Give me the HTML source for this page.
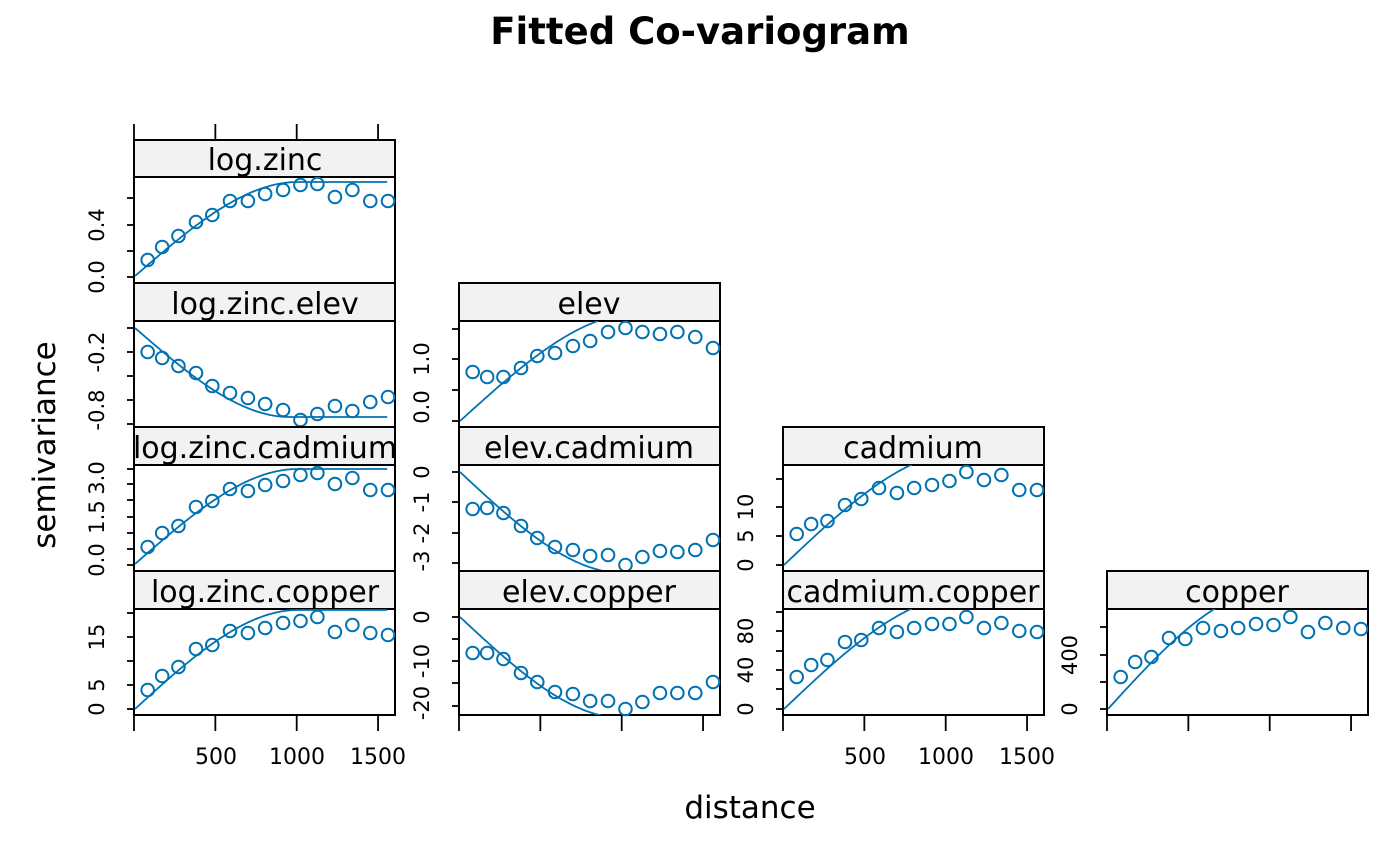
<!DOCTYPE html>
<html><head><meta charset="utf-8"><style>
html,body{margin:0;padding:0;background:#fff;}
svg{display:block;font-family:"DejaVu Sans","Liberation Sans",sans-serif;}
</style></head><body>
<svg id="s" width="1400" height="866" viewBox="0 0 1400 866" xmlns="http://www.w3.org/2000/svg">
<rect width="1400" height="866" fill="#fff"/>
<text x="700" y="44" text-anchor="middle" font-size="37" font-weight="bold">Fitted Co-variogram</text>
<text x="750" y="818" text-anchor="middle" font-size="31">distance</text>
<text transform="translate(55,445) rotate(-90)" text-anchor="middle" font-size="31">semivariance</text>
<g font-size="22" text-anchor="middle">
<text x="216" y="764">500</text><text x="297" y="764">1000</text><text x="378" y="764">1500</text>
<text x="865" y="764">500</text><text x="946" y="764">1000</text><text x="1027" y="764">1500</text>
</g>
<g id="plots"></g>
<g font-size="21" text-anchor="middle" id="ylab">
<text transform="translate(104,277) rotate(-90)">0.0</text>
<text transform="translate(104,225) rotate(-90)">0.4</text>
<text transform="translate(104,352) rotate(-90)">-0.2</text>
<text transform="translate(104,410) rotate(-90)">-0.8</text>
<text transform="translate(104,560) rotate(-90)">0.0</text>
<text transform="translate(104,517) rotate(-90)">1.5</text>
<text transform="translate(104,478) rotate(-90)">3.0</text>
<text transform="translate(104,709) rotate(-90)">0</text>
<text transform="translate(104,685) rotate(-90)">5</text>
<text transform="translate(104,637) rotate(-90)">15</text>
<text transform="translate(429,407) rotate(-90)">0.0</text>
<text transform="translate(429,359) rotate(-90)">1.0</text>
<text transform="translate(429,472) rotate(-90)">0</text>
<text transform="translate(429,502) rotate(-90)">-1</text>
<text transform="translate(429,533) rotate(-90)">-2</text>
<text transform="translate(429,561) rotate(-90)">-3</text>
<text transform="translate(429,617) rotate(-90)">0</text>
<text transform="translate(429,661) rotate(-90)">-10</text>
<text transform="translate(429,703) rotate(-90)">-20</text>
<text transform="translate(753,565) rotate(-90)">0</text>
<text transform="translate(753,536) rotate(-90)">5</text>
<text transform="translate(753,507) rotate(-90)">10</text>
<text transform="translate(753,709) rotate(-90)">0</text>
<text transform="translate(753,670) rotate(-90)">40</text>
<text transform="translate(753,631) rotate(-90)">80</text>
<text transform="translate(1077,709) rotate(-90)">0</text>
<text transform="translate(1077,655) rotate(-90)">400</text>
</g>
<defs>
<clipPath id="s1"><rect x="134" y="140" width="261" height="575"/></clipPath>
<clipPath id="s2"><rect x="459" y="140" width="261" height="575"/></clipPath>
<clipPath id="s3"><rect x="783" y="140" width="261" height="575"/></clipPath>
<clipPath id="s4"><rect x="1107" y="140" width="261" height="575"/></clipPath>
</defs>
<g id="strips" font-size="30" text-anchor="middle">
<g clip-path="url(#s1)">
<text x="265" y="170">log.zinc</text>
<text x="265" y="314">log.zinc.elev</text>
<text x="265" y="458">log.zinc.cadmium</text>
<text x="265" y="602">log.zinc.copper</text>
</g>
<g clip-path="url(#s2)">
<text x="589" y="314">elev</text>
<text x="589" y="458">elev.cadmium</text>
<text x="589" y="602">elev.copper</text>
</g>
<g clip-path="url(#s3)">
<text x="913" y="458">cadmium</text>
<text x="913" y="602">cadmium.copper</text>
</g>
<g clip-path="url(#s4)">
<text x="1237" y="602">copper</text>
</g>
</g>
</svg>
<script>
var NS="http://www.w3.org/2000/svg";
var G=document.getElementById('plots');
function el(t,a,p){var e=document.createElementNS(NS,t);for(var k in a)e.setAttribute(k,a[k]);(p||G).appendChild(e);return e;}
var L=[134,459,783,1107],W=261;
var rows=[[140,177,283],[283,321,427],[427,465,571],[571,609,715]];
var H=[78,167,267,375,475,584,694,800,910,1017,1121,1229,1336,1446,1555];
var S=0.1627;
var P=[
{c:0,r:0,y0:276,ys:182,a:1000,t:[260,247,236,222,215,201,201,194,190,185,184,197,190,201,201],ticks:[277,251,225,198]},
{c:0,r:1,y0:328,ys:417,a:950,t:[352,358,366,373,386,393,398,404,410,420,414,406,411,402,397],ticks:[328,352,376,400,424]},
{c:0,r:2,y0:564,ys:469,a:1000,t:[547,533,526,507,501,489,491,485,481,475,473,484,478,490,490],ticks:[469,484,500,517,533,549,565]},
{c:0,r:3,y0:709,ys:610,a:1000,t:[690,676,667,649,645,631,633,628,623,621,617,632,625,633,635],ticks:[613,637,661,685,709]},
{c:1,r:1,y0:421,ys:313,a:1100,t:[372,377,377,368,356,353,346,341,332,328,332,334,332,337,348],ticks:[421,390,359,329]},
{c:1,r:2,y0:472,ys:573,a:1000,t:[509,508,513,526,538,547,550,556,555,565,557,551,552,550,540],ticks:[472,502,533,563]},
{c:1,r:3,y0:617,ys:718,a:1000,t:[653,653,659,673,682,692,694,701,701,709,702,693,693,693,682],ticks:[617,639,661,683,706]},
{c:2,r:2,y0:565,ys:452,a:1100,t:[534,524,521,505,499,488,493,488,485,481,472,480,475,490,490],ticks:[565,536,507,479]},
{c:2,r:3,y0:709,ys:596,a:1100,t:[677,665,660,642,640,628,632,628,624,624,617,628,623,631,632],ticks:[709,689,670,651,631,612]},
{c:3,r:3,y0:709,ys:590,a:1000,t:[677,662,657,638,639,628,631,628,624,625,617,632,623,628,629],ticks:[709,682,655,627]}
];
var col="#0072B2";
var strips=document.getElementById('strips');
P.forEach(function(p,i){
 var x=L[p.c],R=rows[p.r];
 var cp=el('clipPath',{id:'c'+i});el('rect',{x:x,y:R[1],width:W,height:R[2]-R[1]},cp);
 el('rect',{x:x,y:R[0],width:W,height:R[1]-R[0],fill:'#f2f2f2',stroke:'#000','stroke-width':2});
 el('rect',{x:x,y:R[1],width:W,height:R[2]-R[1],fill:'#fff',stroke:'#000','stroke-width':2});
 var g=el('g',{'clip-path':'url(#c'+i+')'});
 var d='';
 for(var h=0;h<=1555;h+=10){var f=h>=p.a?1:1.5*h/p.a-0.5*Math.pow(h/p.a,3);var y=p.y0+(p.ys-p.y0)*f;d+=(h?'L':'M')+(x+1+h*S).toFixed(1)+' '+y.toFixed(1);}
 el('path',{d:d,fill:'none',stroke:col,'stroke-width':1.8},g);
 H.forEach(function(h,j){el('circle',{cx:x+1+h*S,cy:p.t[j],r:6.3,fill:'none',stroke:col,'stroke-width':2});});
 p.ticks.forEach(function(ty){el('line',{x1:x-7,x2:x,y1:ty,y2:ty,stroke:'#000','stroke-width':1.8});});
});
[0,1,2,3].forEach(function(c){var x=L[c];[0,500,1000,1500].forEach(function(v){var tx=x+v*S;el('line',{x1:tx,x2:tx,y1:715,y2:731,stroke:'#000','stroke-width':1.8});});});
[0,500,1000,1500].forEach(function(v){var tx=134+v*S;el('line',{x1:tx,x2:tx,y1:124,y2:140,stroke:'#000','stroke-width':1.8});});
</script>
</body></html>
